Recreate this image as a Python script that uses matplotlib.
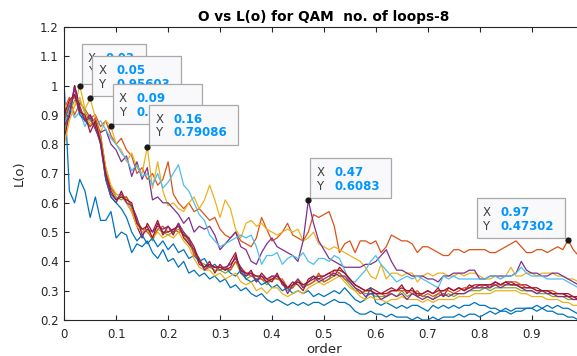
import numpy as np
import matplotlib.pyplot as plt
from matplotlib.patches import Rectangle
from matplotlib.transforms import ScaledTranslation

plt.rcParams['font.family'] = 'DejaVu Sans'

order = np.round(np.arange(0, 1.0, 0.01), 2)

blue_a = [1.00, 0.64, 0.60, 0.68, 0.64, 0.55, 0.62, 0.54, 0.54, 0.57,
          0.48, 0.50, 0.49, 0.43, 0.46, 0.45, 0.47, 0.43, 0.41, 0.44,
          0.40, 0.41, 0.38, 0.40, 0.36, 0.37, 0.35, 0.36, 0.34, 0.35,
          0.33, 0.34, 0.31, 0.32, 0.30, 0.31, 0.29, 0.28, 0.29, 0.27,
          0.26, 0.27, 0.26, 0.25, 0.26, 0.25, 0.26, 0.25, 0.26, 0.26,
          0.25, 0.26, 0.27, 0.26, 0.26, 0.25, 0.23, 0.22, 0.22, 0.23,
          0.22, 0.22, 0.21, 0.22, 0.21, 0.21, 0.21, 0.20, 0.21, 0.20,
          0.20, 0.21, 0.20, 0.21, 0.21, 0.21, 0.22, 0.21, 0.22, 0.22,
          0.21, 0.22, 0.23, 0.22, 0.23, 0.24, 0.23, 0.24, 0.24, 0.24,
          0.24, 0.23, 0.24, 0.23, 0.23, 0.22, 0.22, 0.21, 0.21, 0.20]

orange_hi = [0.92, 0.96, 0.90, 0.94, 0.92, 0.89, 0.90, 0.86, 0.88, 0.83,
             0.80, 0.82, 0.78, 0.76, 0.70, 0.72, 0.68, 0.70, 0.66, 0.68,
             0.74, 0.63, 0.60, 0.58, 0.60, 0.57, 0.58, 0.56, 0.54, 0.55,
             0.51, 0.49, 0.48, 0.50, 0.47, 0.46, 0.45, 0.48, 0.55, 0.51,
             0.47, 0.48, 0.50, 0.53, 0.49, 0.48, 0.47, 0.50, 0.56, 0.55,
             0.56, 0.57, 0.52, 0.43, 0.46, 0.47, 0.43, 0.47, 0.47, 0.46,
             0.47, 0.43, 0.45, 0.49, 0.48, 0.47, 0.47, 0.46, 0.43, 0.45,
             0.45, 0.44, 0.43, 0.42, 0.42, 0.44, 0.44, 0.43, 0.44, 0.44,
             0.44, 0.44, 0.43, 0.43, 0.44, 0.45, 0.46, 0.47, 0.45, 0.43,
             0.43, 0.44, 0.44, 0.43, 0.44, 0.45, 0.44, 0.47302, 0.44, 0.42]

yellow_hi = [0.94, 0.90, 0.93, 1.00, 0.92, 0.95603, 0.89, 0.84, 0.88, 0.86157,
             0.80, 0.78, 0.74, 0.77, 0.72, 0.70, 0.79086, 0.65, 0.74, 0.64,
             0.59, 0.60, 0.58, 0.57, 0.60, 0.62, 0.58, 0.61, 0.66, 0.61,
             0.55, 0.61, 0.58, 0.51, 0.48, 0.53, 0.54, 0.52, 0.53, 0.51,
             0.50, 0.49, 0.50, 0.51, 0.50, 0.51, 0.47, 0.48, 0.50, 0.46,
             0.45, 0.44, 0.45, 0.44, 0.43, 0.42, 0.41, 0.40, 0.38, 0.35,
             0.34, 0.39, 0.34, 0.36, 0.36, 0.35, 0.36, 0.36, 0.33, 0.35,
             0.36, 0.35, 0.36, 0.36, 0.35, 0.35, 0.36, 0.35, 0.36, 0.36,
             0.35, 0.34, 0.34, 0.35, 0.34, 0.35, 0.38, 0.35, 0.35, 0.36,
             0.36, 0.35, 0.36, 0.36, 0.36, 0.35, 0.35, 0.34, 0.34, 0.33]

purple_hi = [0.90, 0.89, 1.00, 0.92, 0.88, 0.90, 0.87, 0.84, 0.85, 0.80,
             0.78, 0.74, 0.76, 0.69, 0.74, 0.68, 0.72, 0.61, 0.62, 0.60,
             0.60, 0.58, 0.56, 0.53, 0.55, 0.50, 0.52, 0.51, 0.52, 0.49,
             0.44, 0.46, 0.48, 0.50, 0.45, 0.44, 0.40, 0.39, 0.43, 0.46,
             0.48, 0.45, 0.44, 0.43, 0.42, 0.40, 0.47, 0.6083, 0.53, 0.47,
             0.44, 0.41, 0.40, 0.39, 0.38, 0.38, 0.38, 0.38, 0.39, 0.39,
             0.40, 0.42, 0.44, 0.40, 0.37, 0.37, 0.36, 0.35, 0.35, 0.35,
             0.34, 0.34, 0.33, 0.35, 0.35, 0.36, 0.36, 0.36, 0.37, 0.37,
             0.34, 0.34, 0.35, 0.35, 0.35, 0.35, 0.35, 0.36, 0.40, 0.37,
             0.36, 0.36, 0.35, 0.35, 0.36, 0.36, 0.35, 0.34, 0.33, 0.32]

green_lo = [0.84, 0.91, 0.95, 0.95, 0.91, 0.88, 0.87, 0.83, 0.71, 0.65,
            0.62, 0.61, 0.62, 0.58, 0.53, 0.50, 0.51, 0.47, 0.51, 0.50,
            0.49, 0.50, 0.51, 0.49, 0.46, 0.43, 0.40, 0.39, 0.38, 0.37,
            0.37, 0.36, 0.37, 0.40, 0.36, 0.34, 0.35, 0.34, 0.34, 0.32,
            0.34, 0.34, 0.33, 0.30, 0.31, 0.33, 0.31, 0.32, 0.33, 0.34,
            0.33, 0.34, 0.35, 0.36, 0.34, 0.32, 0.30, 0.30, 0.29, 0.29,
            0.28, 0.28, 0.28, 0.29, 0.28, 0.30, 0.28, 0.29, 0.29, 0.28,
            0.28, 0.27, 0.29, 0.28, 0.29, 0.28, 0.29, 0.29, 0.30, 0.30,
            0.30, 0.31, 0.30, 0.31, 0.31, 0.31, 0.31, 0.31, 0.30, 0.30,
            0.30, 0.29, 0.29, 0.29, 0.28, 0.28, 0.28, 0.27, 0.27, 0.27]

cyan_hi = [0.87, 0.93, 0.89, 0.91, 0.86, 0.90, 0.86, 0.88, 0.85, 0.82,
           0.80, 0.77, 0.75, 0.71, 0.73, 0.69, 0.70, 0.66, 0.70, 0.65,
           0.67, 0.70, 0.73, 0.66, 0.64, 0.60, 0.56, 0.54, 0.49, 0.47,
           0.45, 0.46, 0.47, 0.48, 0.49, 0.48, 0.49, 0.45, 0.39, 0.42,
           0.42, 0.43, 0.39, 0.41, 0.42, 0.41, 0.43, 0.40, 0.39, 0.41,
           0.41, 0.40, 0.42, 0.41, 0.37, 0.33, 0.33, 0.35, 0.37, 0.40,
           0.42, 0.39, 0.37, 0.35, 0.33, 0.34, 0.35, 0.34, 0.35, 0.34,
           0.33, 0.32, 0.31, 0.35, 0.34, 0.35, 0.34, 0.34, 0.34, 0.34,
           0.34, 0.34, 0.35, 0.35, 0.34, 0.35, 0.35, 0.36, 0.38, 0.36,
           0.35, 0.35, 0.35, 0.34, 0.34, 0.34, 0.34, 0.33, 0.32, 0.31]

darkred_lo = [0.82, 0.90, 1.00, 0.93, 0.88, 0.90, 0.86, 0.80, 0.68, 0.62,
              0.60, 0.64, 0.60, 0.57, 0.52, 0.48, 0.53, 0.50, 0.54, 0.49,
              0.52, 0.49, 0.53, 0.48, 0.46, 0.44, 0.39, 0.38, 0.40, 0.36,
              0.39, 0.37, 0.40, 0.43, 0.36, 0.35, 0.37, 0.33, 0.36, 0.34,
              0.33, 0.36, 0.32, 0.31, 0.33, 0.32, 0.30, 0.34, 0.35, 0.34,
              0.35, 0.36, 0.35, 0.38, 0.36, 0.34, 0.32, 0.31, 0.30, 0.31,
              0.30, 0.29, 0.30, 0.31, 0.30, 0.32, 0.29, 0.31, 0.28, 0.29,
              0.30, 0.29, 0.31, 0.28, 0.31, 0.30, 0.31, 0.30, 0.32, 0.31,
              0.32, 0.32, 0.31, 0.33, 0.32, 0.33, 0.33, 0.32, 0.32, 0.32,
              0.31, 0.31, 0.30, 0.30, 0.29, 0.29, 0.29, 0.29, 0.28, 0.28]

blue_b = [0.88, 0.93, 0.97, 0.90, 0.88, 0.86, 0.88, 0.80, 0.68, 0.62,
          0.60, 0.58, 0.55, 0.50, 0.47, 0.49, 0.46, 0.48, 0.45, 0.47,
          0.44, 0.46, 0.43, 0.44, 0.41, 0.42, 0.40, 0.41, 0.38, 0.39,
          0.37, 0.38, 0.36, 0.35, 0.37, 0.34, 0.33, 0.34, 0.32, 0.33,
          0.31, 0.32, 0.30, 0.31, 0.29, 0.30, 0.29, 0.30, 0.28, 0.29,
          0.28, 0.29, 0.30, 0.29, 0.31, 0.29, 0.27, 0.26, 0.27, 0.31,
          0.26, 0.25, 0.26, 0.25, 0.24, 0.25, 0.24, 0.25, 0.25, 0.24,
          0.23, 0.25, 0.24, 0.25, 0.24, 0.25, 0.24, 0.25, 0.25, 0.26,
          0.25, 0.25, 0.24, 0.24, 0.23, 0.23, 0.22, 0.23, 0.23, 0.24,
          0.24, 0.25, 0.24, 0.25, 0.24, 0.25, 0.24, 0.24, 0.23, 0.22]

orange_lo = [0.88, 0.94, 0.96, 0.92, 0.89, 0.86, 0.89, 0.83, 0.72, 0.65,
             0.63, 0.62, 0.62, 0.59, 0.54, 0.51, 0.50, 0.48, 0.51, 0.52,
             0.50, 0.51, 0.50, 0.50, 0.48, 0.42, 0.41, 0.37, 0.38, 0.38,
             0.37, 0.38, 0.37, 0.40, 0.38, 0.36, 0.35, 0.35, 0.34, 0.33,
             0.35, 0.34, 0.34, 0.31, 0.31, 0.34, 0.32, 0.32, 0.33, 0.36,
             0.33, 0.34, 0.37, 0.36, 0.34, 0.33, 0.31, 0.29, 0.30, 0.30,
             0.29, 0.29, 0.28, 0.30, 0.30, 0.30, 0.30, 0.29, 0.30, 0.28,
             0.29, 0.28, 0.29, 0.30, 0.30, 0.29, 0.30, 0.31, 0.31, 0.31,
             0.31, 0.32, 0.32, 0.32, 0.32, 0.32, 0.33, 0.33, 0.32, 0.31,
             0.31, 0.30, 0.30, 0.30, 0.30, 0.29, 0.29, 0.28, 0.28, 0.27]

yellow_lo = [0.80, 0.88, 0.93, 0.96, 0.90, 0.87, 0.88, 0.82, 0.72, 0.66,
             0.63, 0.62, 0.60, 0.57, 0.52, 0.50, 0.51, 0.48, 0.50, 0.48,
             0.49, 0.48, 0.50, 0.47, 0.45, 0.41, 0.38, 0.37, 0.37, 0.35,
             0.36, 0.34, 0.35, 0.36, 0.33, 0.32, 0.33, 0.30, 0.31, 0.29,
             0.31, 0.31, 0.29, 0.28, 0.29, 0.30, 0.29, 0.31, 0.32, 0.33,
             0.32, 0.33, 0.34, 0.35, 0.33, 0.31, 0.30, 0.28, 0.27, 0.28,
             0.27, 0.27, 0.26, 0.27, 0.27, 0.28, 0.27, 0.27, 0.27, 0.26,
             0.27, 0.26, 0.27, 0.27, 0.27, 0.27, 0.28, 0.28, 0.28, 0.29,
             0.29, 0.29, 0.29, 0.30, 0.30, 0.30, 0.30, 0.30, 0.29, 0.29,
             0.28, 0.28, 0.28, 0.27, 0.27, 0.27, 0.26, 0.26, 0.25, 0.25]

purple_lo = [0.86, 0.90, 0.99, 0.92, 0.88, 0.89, 0.85, 0.81, 0.69, 0.63,
             0.61, 0.63, 0.60, 0.59, 0.55, 0.49, 0.51, 0.50, 0.52, 0.51,
             0.52, 0.50, 0.53, 0.50, 0.47, 0.44, 0.41, 0.37, 0.39, 0.38,
             0.38, 0.38, 0.39, 0.41, 0.38, 0.35, 0.36, 0.33, 0.35, 0.34,
             0.35, 0.35, 0.33, 0.29, 0.32, 0.34, 0.31, 0.33, 0.35, 0.33,
             0.34, 0.35, 0.36, 0.35, 0.35, 0.33, 0.31, 0.30, 0.28, 0.29,
             0.29, 0.27, 0.28, 0.29, 0.28, 0.29, 0.27, 0.29, 0.28, 0.27,
             0.28, 0.27, 0.28, 0.29, 0.28, 0.29, 0.29, 0.29, 0.30, 0.31,
             0.31, 0.31, 0.31, 0.32, 0.31, 0.32, 0.32, 0.32, 0.31, 0.30,
             0.30, 0.29, 0.30, 0.29, 0.29, 0.28, 0.28, 0.28, 0.27, 0.27]

darkred_lo2 = [0.90, 0.95, 0.97, 0.91, 0.90, 0.84, 0.88, 0.81, 0.70, 0.64,
               0.61, 0.62, 0.61, 0.60, 0.53, 0.51, 0.52, 0.48, 0.53, 0.50,
               0.50, 0.51, 0.52, 0.49, 0.48, 0.45, 0.40, 0.38, 0.39, 0.38,
               0.38, 0.37, 0.38, 0.42, 0.37, 0.36, 0.36, 0.35, 0.35, 0.33,
               0.34, 0.35, 0.33, 0.31, 0.32, 0.33, 0.32, 0.33, 0.34, 0.35,
               0.35, 0.36, 0.37, 0.37, 0.36, 0.34, 0.32, 0.31, 0.30, 0.30,
               0.29, 0.29, 0.29, 0.30, 0.30, 0.31, 0.30, 0.30, 0.29, 0.29,
               0.30, 0.29, 0.30, 0.30, 0.31, 0.30, 0.31, 0.30, 0.31, 0.32,
               0.32, 0.32, 0.32, 0.33, 0.32, 0.33, 0.32, 0.32, 0.31, 0.31,
               0.31, 0.30, 0.30, 0.30, 0.29, 0.29, 0.29, 0.28, 0.28, 0.27]

# MATLAB default colour order
series = [
    (blue_a, '#0072BD'),
    (orange_hi, '#D95319'),
    (yellow_hi, '#EDB120'),
    (purple_hi, '#7E2F8E'),
    (green_lo, '#77AC30'),
    (cyan_hi, '#4DBEEE'),
    (darkred_lo, '#A2142F'),
    (blue_b, '#0072BD'),
    (orange_lo, '#D95319'),
    (yellow_lo, '#EDB120'),
    (purple_lo, '#7E2F8E'),
    (darkred_lo2, '#A2142F'),
]

xtick_labels = ['0', '0.1', '0.2', '0.3', '0.4', '0.5', '0.6', '0.7', '0.8', '0.9', '']
ytick_labels = ['0.2', '0.3', '0.4', '0.5', '0.6', '0.7', '0.8', '0.9', '1', '1.1', '1.2']

# data tips: (series, index of the point, box placed left of the point?)
tips = [
    (yellow_hi, 3, False),
    (yellow_hi, 5, False),
    (yellow_hi, 9, False),
    (yellow_hi, 16, False),
    (purple_hi, 47, False),
    (orange_hi, 97, True),
]

fig = plt.figure(figsize=(5.77, 3.56), dpi=100)
ax = fig.add_axes([64.2 / 577, 36 / 356, 519.4 / 577, 293 / 356])

for vals, col in series:
    ax.plot(order, vals, color=col, lw=0.9)

ax.set_xlim(0, 1)
ax.set_ylim(0.2, 1.2)
ax.set_xticks(np.linspace(0, 1, 11))
ax.set_xticklabels(xtick_labels)
ax.set_yticks(np.linspace(0.2, 1.2, 11))
ax.set_yticklabels(ytick_labels)

axcol = '#262626'
for sp in ax.spines.values():
    sp.set_color(axcol)
    sp.set_linewidth(0.8)
ax.tick_params(direction='in', length=3.5, width=0.8, colors=axcol,
               labelsize=8.5, top=True, right=True)
ax.tick_params(axis='x', pad=5.5)
ax.tick_params(axis='y', pad=4)

ax.set_title('O vs L(o) for QAM  no. of loops-8', fontsize=9.8,
             fontweight='bold', pad=4.5)
ax.set_xlabel('order', fontsize=9.5, color=axcol)
ax.set_ylabel('L(o)', fontsize=9.5, color=axcol)
ax.xaxis.set_label_coords(0.5, -0.077)
ax.yaxis.set_label_coords(-0.074, 0.5)

renderer = fig.canvas.get_renderer()
tipfont = dict(fontsize=8.5, va='center', clip_on=False)
z = 10
for vals, i, left in tips:
    x, y = order[i], vals[i]
    tr = fig.dpi_scale_trans + ScaledTranslation(x, y, ax.transData)
    ax.plot(x, y, 'o', color='#1a1a1a', ms=4.5, mew=0, zorder=z + 2,
            clip_on=False)
    xs, ys = '{:.5g}'.format(x), '{:.5g}'.format(y)
    widths = []
    for s in (xs, ys):
        t = fig.text(0, 0, s, fontsize=8.5, fontweight='bold')
        widths.append(t.get_window_extent(renderer).width)
        t.remove()
    w = 24 + max(widths) + 11
    x0 = -(w + 3) if left else 2
    box = Rectangle((x0 / 100, 0.02), w / 100, 0.40, transform=tr,
                    facecolor='#F9F9FB', edgecolor='#A9A9A9', lw=0.9,
                    zorder=z, clip_on=False)
    ax.add_patch(box)
    for lab, val, dy in (('X', xs, 27.5), ('Y', ys, 14)):
        ax.text((x0 + 6) / 100, dy / 100, lab, transform=tr, color='#404040',
                zorder=z + 1, **tipfont)
        ax.text((x0 + 24) / 100, dy / 100, val, transform=tr,
                color='#0096FF', fontweight='bold', zorder=z + 1, **tipfont)
    z += 3

fig.savefig('out.png', dpi=100)
